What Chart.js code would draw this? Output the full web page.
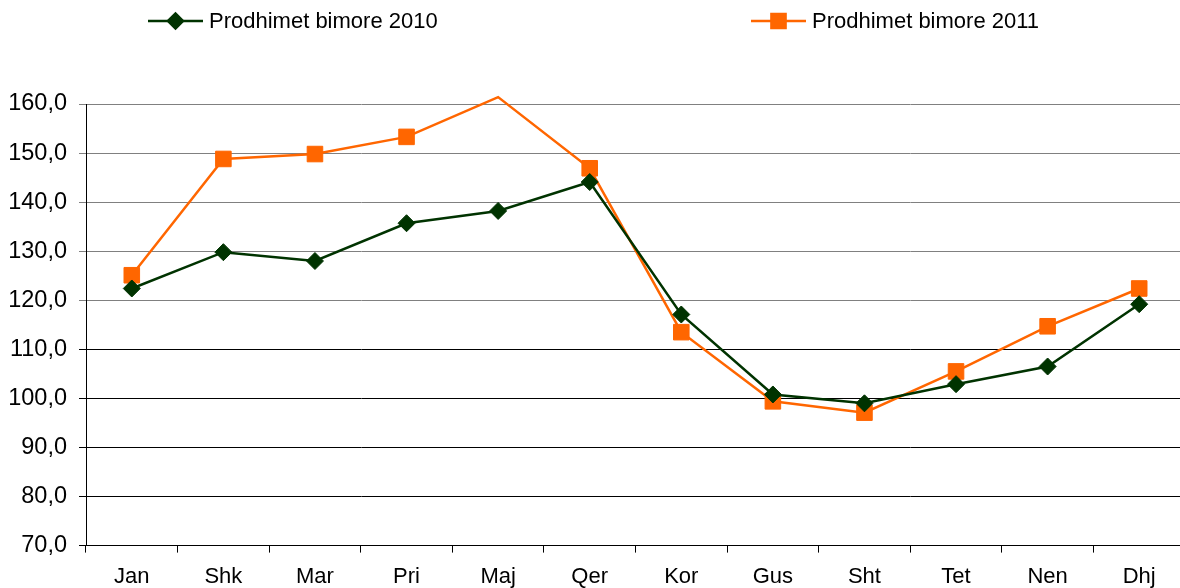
<!DOCTYPE html>
<html>
<head>
<meta charset="utf-8">
<script src="https://cdn.jsdelivr.net/npm/chart.js@4.4.1/dist/chart.umd.min.js"></script>
<style>
  html, body { margin: 0; padding: 0; background: #fff; overflow: hidden; }
  #wrap { width: 1197px; height: 609px; }
</style>
</head>
<body>
<div id="wrap"><canvas id="chart"></canvas></div>
<script>
// --- data ---
const months = ['Jan', 'Shk', 'Mar', 'Pri', 'Maj', 'Qer', 'Kor', 'Gus', 'Sht', 'Tet', 'Nen', 'Dhj'];
const prod2010 = [122.4, 129.8, 128.0, 135.7, 138.2, 144.1, 117.1, 100.8, 99.0, 102.9, 106.5, 119.2];
const prod2011 = [125.1, 148.8, 149.8, 153.3, 161.4, 146.9, 113.5, 99.4, 97.1, 105.5, 114.7, 122.4];
const yMin = 70;
const yMax = 160;
const yStep = 10;

const FONT = "'Liberation Sans', Arial, sans-serif";
const GREEN = '#003300';
const ORANGE = '#FF6600';

// Excel hides markers that fall above the axis max, but still draws the line
const hideAbove = (r) => (ctx) => (ctx.raw > yMax ? 0 : r);

// Legend drawn by hand: Excel spreads the two entries far apart
const excelLegend = {
    id: 'excelLegend',
    afterDraw: (chart) => {
        const { ctx } = chart;
        const slots = [148, 751];
        const y = 21;
        ctx.save();
        chart.data.datasets.forEach((ds, i) => {
            const x0 = slots[i];
            ctx.strokeStyle = ds.borderColor;
            ctx.lineWidth = 2.5;
            ctx.beginPath();
            ctx.moveTo(x0, y);
            ctx.lineTo(x0 + 55, y);
            ctx.stroke();
            ctx.fillStyle = ds.pointBackgroundColor;
            ctx.strokeStyle = ds.pointBorderColor;
            Chart.helpers.drawPoint(ctx, {
                pointStyle: ds.pointStyle,
                radius: ds.pointStyle === 'rectRot' ? 7.5 : 10,
                rotation: 0,
                borderWidth: 1
            }, x0 + 27.5, y);
            ctx.fillStyle = '#000';
            ctx.font = '22px ' + FONT;
            ctx.textBaseline = 'middle';
            ctx.textAlign = 'left';
            ctx.fillText(ds.label, x0 + 61, y + 1);
        });
        ctx.restore();
    }
};

new Chart(document.getElementById('chart'), {
    type: 'line',
    data: {
        labels: months,
        datasets: [
            {
                label: 'Prodhimet bimore 2010',
                data: prod2010,
                borderColor: GREEN,
                backgroundColor: GREEN,
                borderWidth: 2.5,
                pointStyle: 'rectRot',
                pointRadius: hideAbove(8.5),
                pointBackgroundColor: GREEN,
                pointBorderColor: GREEN,
                pointBorderWidth: 1,
                tension: 0,
                clip: false
            },
            {
                label: 'Prodhimet bimore 2011',
                data: prod2011,
                borderColor: ORANGE,
                backgroundColor: ORANGE,
                borderWidth: 2.5,
                pointStyle: 'rect',
                pointRadius: hideAbove(11),
                pointBackgroundColor: ORANGE,
                pointBorderColor: ORANGE,
                pointBorderWidth: 1,
                tension: 0,
                clip: false
            }
        ]
    },
    options: {
        responsive: true,
        maintainAspectRatio: false,
        animation: false,
        layout: { padding: { top: 104, right: 5, bottom: 8, left: 0 } },
        plugins: { legend: { display: false }, tooltip: { enabled: false } },
        scales: {
            x: {
                offset: true,
                grid: {
                    offset: true,
                    drawOnChartArea: false,
                    drawTicks: true,
                    tickLength: 7,
                    color: '#000'
                },
                border: { display: true, color: '#000', width: 1 },
                ticks: {
                    color: '#000',
                    font: { family: FONT, size: 22 },
                    padding: 11,
                    maxRotation: 0,
                    autoSkip: false
                }
            },
            y: {
                min: yMin,
                max: yMax,
                afterFit: (scale) => { scale.width = 86; },
                grid: {
                    color: (c) => (c.tick && c.tick.value >= 120 ? '#808080' : '#000'),
                    lineWidth: 1,
                    drawTicks: true,
                    tickLength: 7
                },
                border: { display: true, color: '#000', width: 1 },
                ticks: {
                    stepSize: yStep,
                    color: '#000',
                    font: { family: FONT, size: 23.5 },
                    padding: 12,
                    callback: (v) => v.toFixed(1).replace('.', ',')
                }
            }
        }
    },
    plugins: [excelLegend]
});
</script>
</body>
</html>
